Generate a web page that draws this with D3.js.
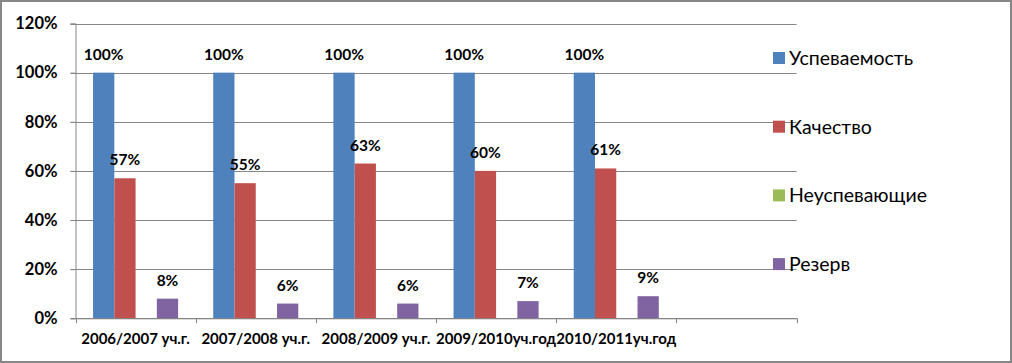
<!DOCTYPE html>
<html>
<head>
<meta charset="utf-8">
<script src="https://cdn.jsdelivr.net/npm/d3@7"></script>
<style>
body { margin: 0; background: #fff; }
text { font-family: Lato, "Open Sans", sans-serif; fill: #000; }
</style>
</head>
<body>
<div id="chart"></div>
<script>
// categories (the last slot is empty in the original chart)
var categories = ["2006/2007 уч.г.", "2007/2008 уч.г.", "2008/2009 уч.г.", "2009/2010уч.год", "2010/2011уч.год", ""];
var seriesNames = ["Успеваемость", "Качество", "Неуспевающие", "Резерв"];
var seriesColors = ["#4F81BD", "#C0504D", "#9BBB59", "#8064A2"];
var uspevaemost = [1.00, 1.00, 1.00, 1.00, 1.00];
var kachestvo = [0.57, 0.55, 0.63, 0.60, 0.61];
var neuspevayushchie = [0, 0, 0, 0, 0];
var rezerv = [0.08, 0.06, 0.06, 0.07, 0.09];
var yTicks = [0, 0.2, 0.4, 0.6, 0.8, 1.0, 1.2];

var series = [uspevaemost, kachestvo, neuspevayushchie, rezerv];

var width = 1012, height = 363;
var plot = {left: 75.5, right: 796.5, top: 23.5, bottom: 318.3};

var svg = d3.select("#chart").append("svg")
  .attr("width", width)
  .attr("height", height);

svg.append("rect")
  .attr("x", 1).attr("y", 1)
  .attr("width", width - 2).attr("height", height - 2)
  .attr("fill", "#fff")
  .attr("stroke", "#878787")
  .attr("stroke-width", 2);

var x0 = d3.scaleBand()
  .domain(categories)
  .range([plot.left, plot.right]);

var x1 = d3.scaleBand()
  .domain(seriesNames)
  .range([0, x0.bandwidth()])
  .paddingInner(0)
  .paddingOuter(0.825);

var y = d3.scaleLinear()
  .domain([0, 1.2])
  .range([plot.bottom, plot.top]);

// gridlines
svg.append("g")
  .selectAll("line")
  .data(yTicks)
  .enter().append("line")
  .attr("x1", plot.left - 5)
  .attr("x2", plot.right)
  .attr("y1", function (d) { return Math.round(y(d)) + 0.5; })
  .attr("y2", function (d) { return Math.round(y(d)) + 0.5; })
  .attr("stroke", "#868686")
  .attr("stroke-width", 1);

// y axis
var yAxis = d3.axisLeft(y)
  .tickValues(yTicks)
  .tickFormat(d3.format(".0%"))
  .tickSize(5)
  .tickPadding(13);

var gy = svg.append("g")
  .attr("transform", "translate(" + plot.left + ",0)")
  .call(yAxis);
gy.select(".domain").attr("stroke", "#868686");
gy.selectAll(".tick line").attr("stroke", "#868686");
gy.selectAll("text")
  .attr("font-size", 16.5)
  .attr("font-weight", "bold")
  .attr("fill", "#000");

// bars
var groups = svg.append("g")
  .selectAll(".group")
  .data(categories.slice(0, 5))
  .enter().append("g")
  .attr("class", "group")
  .attr("transform", function (d) { return "translate(" + x0(d) + ",0)"; });

groups.selectAll("rect")
  .data(function (d, i) {
    return seriesNames.map(function (s, k) { return {name: s, value: series[k][i], color: seriesColors[k]}; });
  })
  .enter().append("rect")
  .attr("x", function (d) { return x1(d.name); })
  .attr("width", x1.bandwidth())
  .attr("y", function (d) { return y(d.value); })
  .attr("height", function (d) { return plot.bottom - y(d.value); })
  .attr("fill", function (d) { return d.color; });

groups.selectAll(".lbl")
  .data(function (d, i) {
    return seriesNames.map(function (s, k) { return {name: s, value: series[k][i]}; })
      .filter(function (d) { return d.value > 0; });
  })
  .enter().append("text")
  .attr("class", "lbl")
  .attr("x", function (d) { return x1(d.name) + x1.bandwidth() / 2; })
  .attr("y", function (d) { return y(d.value) - 13; })
  .attr("text-anchor", "middle")
  .attr("font-size", 15.5)
  .attr("font-weight", "bold")
  .text(function (d) { return d3.format(".0%")(d.value); });

// x axis
var xAxis = d3.axisBottom(x0)
  .tickSize(0)
  .tickFormat("");

var gx = svg.append("g")
  .attr("transform", "translate(0," + plot.bottom + ")")
  .call(xAxis);
gx.select(".domain").attr("stroke", "#868686");

svg.append("g")
  .selectAll("line")
  .data(categories.concat(["end"]))
  .enter().append("line")
  .attr("x1", function (d, i) { return Math.round(plot.left + i * x0.step()) + 0.5; })
  .attr("x2", function (d, i) { return Math.round(plot.left + i * x0.step()) + 0.5; })
  .attr("y1", plot.bottom)
  .attr("y2", plot.bottom + 5)
  .attr("stroke", "#868686");

svg.append("g")
  .selectAll("text")
  .data(categories)
  .enter().append("text")
  .attr("x", function (d) { return x0(d) + x0.bandwidth() / 2; })
  .attr("y", 344)
  .attr("text-anchor", "middle")
  .attr("font-size", 15)
  .attr("font-weight", "bold")
  .text(function (d) { return d; });

// legend
var legend = svg.append("g")
  .selectAll(".legend")
  .data(seriesNames)
  .enter().append("g")
  .attr("class", "legend")
  .attr("transform", function (d, i) { return "translate(773," + (52 + i * 68.7) + ")"; });

legend.append("rect")
  .attr("width", 12)
  .attr("height", 12)
  .attr("fill", function (d, i) { return seriesColors[i]; });

legend.append("text")
  .attr("x", 16)
  .attr("y", 13)
  .attr("font-size", 19.5)
  .text(function (d) { return d; });
</script>
</body>
</html>
